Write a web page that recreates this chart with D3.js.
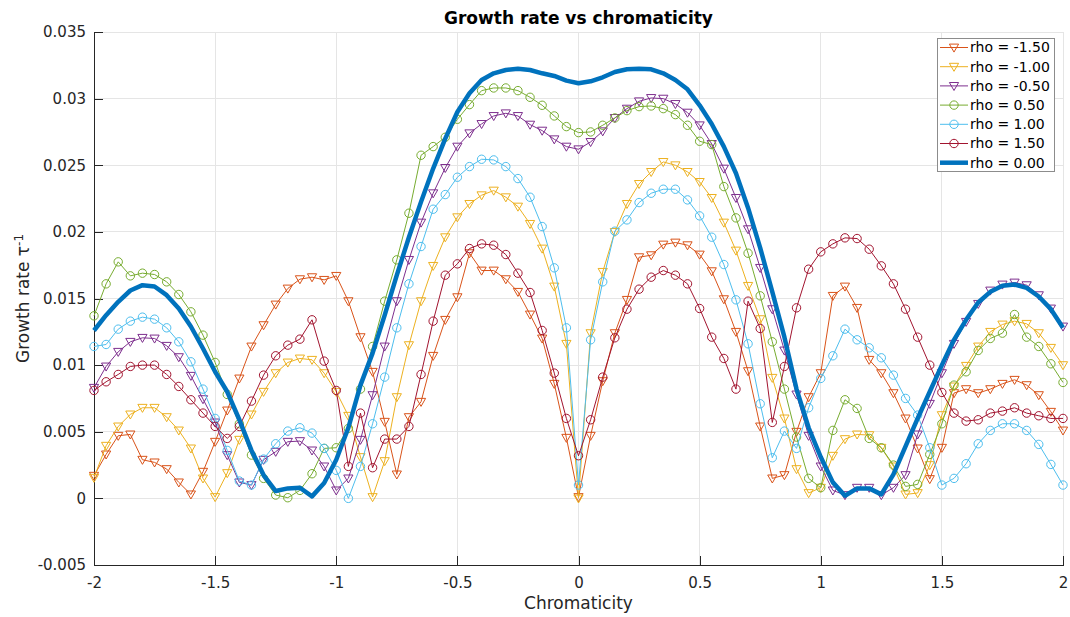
<!DOCTYPE html>
<html>
<head>
<meta charset="utf-8">
<script src="https://cdn.jsdelivr.net/npm/d3@7"></script>
<style>
  html, body { margin: 0; padding: 0; background: #fff; }
  svg { display: block; font-family: "DejaVu Sans", sans-serif; }
</style>
</head>
<body>
<svg id="chart" width="1070" height="617"></svg>
<script>
// Chromaticity sample points
const chromaticity = [
  -2.00,-1.95,-1.90,-1.85,-1.80,-1.75,-1.70,-1.65,-1.60,-1.55,
  -1.50,-1.45,-1.40,-1.35,-1.30,-1.25,-1.20,-1.15,-1.10,-1.05,
  -1.00,-0.95,-0.90,-0.85,-0.80,-0.75,-0.70,-0.65,-0.60,-0.55,
  -0.50,-0.45,-0.40,-0.35,-0.30,-0.25,-0.20,-0.15,-0.10,-0.05,
   0.00, 0.05, 0.10, 0.15, 0.20, 0.25, 0.30, 0.35, 0.40, 0.45,
   0.50, 0.55, 0.60, 0.65, 0.70, 0.75, 0.80, 0.85, 0.90, 0.95,
   1.00, 1.05, 1.10, 1.15, 1.20, 1.25, 1.30, 1.35, 1.40, 1.45,
   1.50, 1.55, 1.60, 1.65, 1.70, 1.75, 1.80, 1.85, 1.90, 1.95,
   2.00
];

// Growth rate for each rho
const rhoM150 = [
  0.0017,0.0033,0.0047,0.0048,0.0029,0.0027,0.0022,0.0012,0.0003,0.0020,
  0.00425,0.0066,0.0090,0.0114,0.0130,0.01455,0.01575,0.01645,0.0166,0.0164,
  0.0167,0.0148,0.0121,0.0095,0.00575,0.0018,0.0061,0.00725,0.0107,0.0134,
  0.0151,0.0184,0.0171,0.0171,0.01645,0.0155,0.0138,0.0120,0.0086,0.00455,
  0.0001,0.0047,0.0088,0.0124,0.0149,0.0181,0.01825,0.01905,0.0192,0.0190,
  0.0183,0.01705,0.01495,0.0125,0.00955,0.0054,0.0015,0.00175,0.0050,0.0076,
  0.0094,0.0152,0.0159,0.0143,0.0104,0.0094,0.0079,0.0060,0.00375,0.00145,
  0.0038,0.0079,0.0082,0.0079,0.0082,0.0086,0.0089,0.0085,0.00775,0.0065,
  0.0051
];
const rhoM100 = [
  0.00155,0.00395,0.0054,0.0063,0.0068,0.0068,0.0061,0.0051,0.00375,0.0015,
  0.0001,0.0019,0.0044,0.0063,0.0080,0.0094,0.0102,0.0105,0.0104,0.0094,
  0.0080,0.0062,0.0031,0.0001,0.0028,0.0076,0.0115,0.0148,0.01745,0.0196,
  0.0211,0.0221,0.02275,0.0231,0.0226,0.0219,0.0206,0.01875,0.0159,0.0116,
  0.0000,0.0124,0.0170,0.0200,0.0221,0.0236,0.0245,0.02525,0.0250,0.0245,
  0.02375,0.02255,0.0207,0.0186,0.01595,0.01345,0.00905,0.0060,0.0022,0.0004,
  0.0008,0.0032,0.00445,0.0048,0.00475,0.0038,0.0024,0.0003,0.0004,0.0025,
  0.00625,0.0084,0.00995,0.0114,0.0125,0.01305,0.0133,0.0131,0.0124,0.0113,
  0.0100
];
const rhoM050 = [
  0.0083,0.0099,0.0110,0.01175,0.01205,0.0120,0.01145,0.0106,0.0092,0.00745,
  0.0057,0.00325,0.0012,0.0010,0.0029,0.0035,0.00425,0.0043,0.0036,0.0024,
  0.0006,0.0015,0.0044,0.00775,0.0114,0.0148,0.0179,0.0207,0.0229,0.0248,
  0.0264,0.0274,0.0281,0.0287,0.0289,0.0287,0.02805,0.0276,0.02695,0.0264,
  0.0262,0.02675,0.02755,0.02855,0.02925,0.0298,0.03005,0.0300,0.0296,0.02895,
  0.0280,0.0266,0.02475,0.02255,0.0202,0.0173,0.0142,0.0111,0.0078,0.0047,
  0.0024,0.0006,0.00025,0.0008,0.0008,0.00025,0.0008,0.00175,0.0048,0.0071,
  0.0094,0.0116,0.01325,0.0146,0.0156,0.01605,0.0162,0.0160,0.01525,0.01425,
  0.0129
];
const rhoP050 = [
  0.0137,0.0161,0.01775,0.0167,0.0169,0.0168,0.01625,0.0153,0.0140,0.01225,
  0.0102,0.0078,0.0056,0.00325,0.0015,0.00025,0.00005,0.0006,0.00185,0.00375,
  0.0038,0.00525,0.0082,0.0114,0.0148,0.0179,0.0214,0.02575,0.0264,0.0271,
  0.02845,0.02955,0.0306,0.0308,0.0308,0.0306,0.0301,0.0295,0.0287,0.0279,
  0.02745,0.0275,0.0280,0.02855,0.0291,0.0294,0.02945,0.02925,0.0288,0.0280,
  0.0268,0.02655,0.0234,0.02105,0.0184,0.0152,0.01175,0.0082,0.0046,0.0015,
  0.0008,0.0051,0.0074,0.00675,0.0045,0.0038,0.0025,0.0009,0.00105,0.0033,
  0.0056,0.0085,0.0095,0.0111,0.0120,0.0124,0.0138,0.0121,0.0114,0.0101,
  0.0087
];
const rhoP100 = [
  0.0114,0.01155,0.0127,0.0133,0.0136,0.01345,0.0128,0.01175,0.01025,0.0082,
  0.0060,0.0036,0.0013,0.0010,0.00295,0.0041,0.00505,0.0053,0.0049,0.00375,
  0.0021,0.0000,0.0024,0.0056,0.0091,0.0128,0.0161,0.0189,0.0217,0.0228,
  0.0241,0.0249,0.02545,0.0254,0.0249,0.0240,0.0226,0.0204,0.0173,0.0128,
  0.0010,0.0119,0.01625,0.02005,0.0209,0.0222,0.0229,0.0232,0.0232,0.0224,
  0.0212,0.0196,0.01755,0.0149,0.0116,0.0071,0.00305,0.00505,0.00375,0.0068,
  0.0090,0.0107,0.0127,0.0119,0.0113,0.01055,0.00925,0.0075,0.00625,0.0038,
  0.0010,0.0015,0.0026,0.0041,0.0051,0.0056,0.0056,0.0051,0.00405,0.00255,
  0.0010
];
const rhoP150 = [
  0.0081,0.00875,0.0093,0.0099,0.0100,0.0100,0.0093,0.0084,0.0074,0.0064,
  0.0054,0.0045,0.0054,0.0073,0.00925,0.0107,0.0115,0.01195,0.0134,0.0103,
  0.0081,0.0024,0.0064,0.0023,0.00445,0.00445,0.0054,0.0093,0.0133,0.01675,
  0.0176,0.01875,0.0191,0.0190,0.0183,0.0169,0.01545,0.0126,0.0094,0.0060,
  0.0032,0.0059,0.0091,0.01205,0.0142,0.0157,0.0166,0.0171,0.01675,0.0161,
  0.01425,0.0121,0.0105,0.0082,0.0148,0.01275,0.0057,0.0099,0.0143,0.0172,
  0.0185,0.0191,0.01955,0.0195,0.0187,0.01745,0.0161,0.0142,0.0121,0.0100,
  0.00795,0.0064,0.0058,0.0059,0.0064,0.00655,0.0068,0.0064,0.0062,0.0060,
  0.0060
];
const rho000 = [
  0.0126,0.01375,0.01475,0.0156,0.0160,0.0159,0.01525,0.01425,0.0129,0.01125,
  0.0095,0.0080,0.0059,0.0036,0.00175,0.00055,0.00075,0.0008,0.00015,0.00115,
  0.0029,0.0053,0.0085,0.0109,0.01375,0.01675,0.0196,0.02225,0.02475,0.0270,
  0.0290,0.0304,0.0314,0.0319,0.03215,0.03225,0.03215,0.0319,0.0317,0.03135,
  0.03115,0.0313,0.0316,0.0320,0.0322,0.03225,0.0322,0.0319,0.0314,0.0307,
  0.0295,0.0281,0.0264,0.0244,0.0218,0.0188,0.0155,0.0121,0.0082,0.0053,
  0.0031,0.0012,0.0002,0.00075,0.00075,0.0003,0.0018,0.0039,0.0060,0.0080,
  0.0100,0.0119,0.0134,0.0147,0.0155,0.01595,0.01605,0.0158,0.01515,0.0142,
  0.0128
];

const seriesNames = ["rho = -1.50", "rho = -1.00", "rho = -0.50", "rho = 0.50", "rho = 1.00", "rho = 1.50", "rho = 0.00"];
const seriesValues = [rhoM150, rhoM100, rhoM050, rhoP050, rhoP100, rhoP150, rho000];
const seriesColors = ["#D95319", "#EDB120", "#7E2F8E", "#77AC30", "#4DBEEE", "#A2142F", "#0072BD"];
const seriesMarkers = ["triangle", "triangle", "triangle", "circle", "circle", "circle", "none"];
const seriesWidths = [1, 1, 1, 1, 1, 1, 4.5];

const xTicks = [-2, -1.5, -1, -0.5, 0, 0.5, 1, 1.5, 2];
const yTicks = [-0.005, 0, 0.005, 0.01, 0.015, 0.02, 0.025, 0.03, 0.035];

const titleText = "Growth rate vs chromaticity";
const xLabelText = "Chromaticity";

const W = 1070, H = 617;
const m = { left: 94, right: 7, top: 32, bottom: 52 };
const axisColor = "#262626";

const svg = d3.select("#chart");
const x = d3.scaleLinear().domain([-2, 2]).range([m.left, W - m.right]);
const y = d3.scaleLinear().domain([-0.005, 0.035]).range([H - m.bottom, m.top]);

// grid
const grid = svg.append("g");
grid.selectAll("line.gx").data(xTicks).join("line")
  .attr("x1", d => x(d)).attr("x2", d => x(d))
  .attr("y1", y.range()[1]).attr("y2", y.range()[0])
  .attr("stroke", "#e5e5e5").attr("stroke-width", 1).attr("shape-rendering", "crispEdges");
grid.selectAll("line.gy").data(yTicks).join("line")
  .attr("x1", x.range()[0]).attr("x2", x.range()[1])
  .attr("y1", d => y(d)).attr("y2", d => y(d))
  .attr("stroke", "#e5e5e5").attr("stroke-width", 1).attr("shape-rendering", "crispEdges");

// axes (ticks point inward)
const fmt = v => String(+v.toFixed(3));
const xAxis = svg.append("g")
  .attr("transform", `translate(0,${y.range()[0]})`)
  .call(d3.axisBottom(x).tickValues(xTicks).tickFormat(fmt).tickSizeInner(-9).tickSizeOuter(0).tickPadding(12));
const yAxis = svg.append("g")
  .attr("transform", `translate(${x.range()[0]},0)`)
  .call(d3.axisLeft(y).tickValues(yTicks).tickFormat(fmt).tickSizeInner(-9).tickSizeOuter(0).tickPadding(8));
[xAxis, yAxis].forEach(a => {
  a.select(".domain").attr("stroke", axisColor).attr("stroke-width", 1).attr("shape-rendering", "crispEdges");
  a.selectAll(".tick line").attr("stroke", axisColor).attr("shape-rendering", "crispEdges");
  a.selectAll(".tick text").attr("fill", axisColor).style("font-size", "15px").style("font-family", "DejaVu Sans");
});

// series
const line = d3.line().x((d, i) => x(chromaticity[i])).y(d => y(d));
const triPath = "M-4.6,-3.4L4.6,-3.4L0,4.6Z";

function drawMarker(g, type, color) {
  if (type === "triangle") {
    g.append("path").attr("d", triPath).attr("fill", "none").attr("stroke", color).attr("stroke-width", 1);
  } else if (type === "circle") {
    g.append("circle").attr("r", 4.2).attr("fill", "none").attr("stroke", color).attr("stroke-width", 1);
  }
}

const plot = svg.append("g");
seriesValues.forEach((vals, s) => {
  const g = plot.append("g");
  g.append("path").datum(vals).attr("d", line)
    .attr("fill", "none").attr("stroke", seriesColors[s])
    .attr("stroke-width", seriesWidths[s]).attr("stroke-linejoin", "round");
  if (seriesMarkers[s] !== "none") {
    g.selectAll("g.mk").data(vals).join("g")
      .attr("transform", (d, i) => `translate(${x(chromaticity[i])},${y(d)})`)
      .each(function () { drawMarker(d3.select(this), seriesMarkers[s], seriesColors[s]); });
  }
});

// legend
const lg = svg.append("g").attr("transform", "translate(937,38)");
lg.append("rect").attr("x", 0.5).attr("y", 0.5).attr("width", 117).attr("height", 133)
  .attr("fill", "#fff").attr("stroke", "#8c8c8c").attr("stroke-width", 1);
seriesNames.forEach((name, s) => {
  const row = lg.append("g").attr("transform", `translate(0,${9.5 + s * 19.2})`);
  row.append("line").attr("x1", 3).attr("x2", 31).attr("y1", 0).attr("y2", 0)
    .attr("stroke", seriesColors[s]).attr("stroke-width", seriesWidths[s]);
  const mk = row.append("g").attr("transform", "translate(17,0)");
  drawMarker(mk, seriesMarkers[s], seriesColors[s]);
  row.append("text").attr("x", 33).attr("y", 0).attr("dy", "0.35em")
    .style("font-size", "14px").attr("fill", "#000").text(name);
});

// title and labels
svg.append("text").attr("x", (x.range()[0] + x.range()[1]) / 2).attr("y", 24)
  .attr("text-anchor", "middle").style("font-size", "17px").style("font-weight", "bold")
  .attr("fill", "#000").text(titleText);
svg.append("text").attr("x", (x.range()[0] + x.range()[1]) / 2).attr("y", 609)
  .attr("text-anchor", "middle").style("font-size", "17px").attr("fill", axisColor).text(xLabelText);
const yl = svg.append("text")
  .attr("transform", `translate(29,${(y.range()[0] + y.range()[1]) / 2}) rotate(-90)`)
  .attr("text-anchor", "middle").style("font-size", "17px").attr("fill", axisColor);
yl.append("tspan").text("Growth rate \u03C4");
yl.append("tspan").attr("dy", "-0.5em").style("font-size", "12px").text("-1");
</script>
</body>
</html>
